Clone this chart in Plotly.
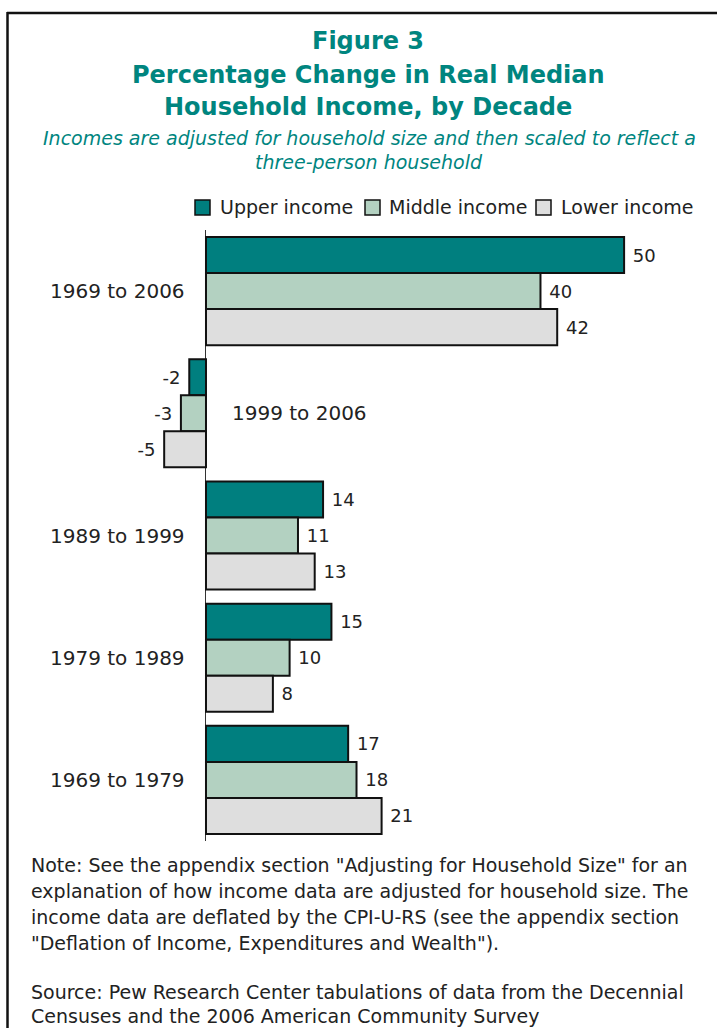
import plotly.graph_objects as go

# Decade categories (top to bottom) and percentage change per income tier
periods = ["1969 to 2006", "1999 to 2006", "1989 to 1999", "1979 to 1989", "1969 to 1979"]
upper_income = [50, -2, 14, 15, 17]
middle_income = [40, -3, 11, 10, 18]
lower_income = [42, -5, 13, 8, 21]

series = [
    ("Upper income", upper_income, "#007F7F"),
    ("Middle income", middle_income, "#B3D1C1"),
    ("Lower income", lower_income, "#DEDEDE"),
]

title_lines = ["Figure 3", "Percentage Change in Real Median", "Household Income, by Decade"]
subtitle_lines = ["Incomes are adjusted for household size and then scaled to reflect a",
                  "three-person household"]
note_lines = [
    "Note: See the appendix section \"Adjusting for Household Size\" for an",
    "explanation of how income data are adjusted for household size. The",
    "income data are deflated by the CPI-U-RS (see the appendix section",
    "\"Deflation of Income, Expenditures and Wealth\").",
    "",
    "Source: Pew Research Center tabulations of data from the Decennial",
    "Censuses and the 2006 American Community Survey",
]

W, H = 717, 1028
ML, MR, MT, MB = 160, 26, 230, 187
PW, PH = W - ML - MR, H - MT - MB


def px(xp):
    return (xp - ML) / PW


def py(yp):
    return (H - MB - yp) / PH


FONT = "DejaVu Sans"
TEAL = "#00857F"
INK = "#222222"


def label(v):
    # pad the value text away from the bar end
    return f" {v}" if v >= 0 else f"{v} "


fig = go.Figure()
for name, vals, color in series:
    fig.add_trace(go.Bar(
        y=periods, x=vals, name=name, orientation="h",
        marker=dict(color=color, line=dict(color="#111111", width=2)),
        text=[label(v) for v in vals], textposition="outside",
        textfont=dict(family=FONT, size=18, color=INK),
        cliponaxis=False, showlegend=False,
    ))

annotations = []
shapes = []

# Category labels: left of the axis, except the negative-valued decade which sits right of it
for p in periods:
    right_side = p == "1999 to 2006"
    annotations.append(dict(x=px(230 if right_side else 187), xref="paper", y=p, yref="y", text=p,
                            showarrow=False, xanchor="left" if right_side else "right",
                            yanchor="middle", font=dict(family=FONT, size=20, color=INK)))

# Title block
for text, yc in zip(title_lines, [41, 75, 107]):
    annotations.append(dict(x=px(368), y=py(yc), xref="paper", yref="paper", showarrow=False,
                            xanchor="center", yanchor="middle", text=f"<b>{text}</b>",
                            font=dict(family=FONT, size=24, color=TEAL)))
for text, yc in zip(subtitle_lines, [138, 162]):
    annotations.append(dict(x=px(369), y=py(yc), xref="paper", yref="paper", showarrow=False,
                            xanchor="center", yanchor="middle", text=f"<i>{text}</i>",
                            font=dict(family=FONT, size=19, color=TEAL)))

# Legend row: swatch + label per series
legend_x = [(195, 218), (365, 387), (536, 559)]
for (name, _, color), (sx, tx) in zip(series, legend_x):
    shapes.append(dict(type="rect", xref="paper", yref="paper",
                       x0=px(sx), x1=px(sx + 15), y0=py(200), y1=py(215),
                       fillcolor=color, line=dict(color="#111111", width=1.5)))
    annotations.append(dict(x=px(tx), y=py(207), xref="paper", yref="paper", showarrow=False,
                            xanchor="left", yanchor="middle", text=name,
                            font=dict(family=FONT, size=19, color=INK)))

# Notes and source
note_y = [865, 891, 917, 943, None, 992, 1016]
for text, yc in zip(note_lines, note_y):
    if not text:
        continue
    annotations.append(dict(x=px(29), y=py(yc), xref="paper", yref="paper", showarrow=False,
                            xanchor="left", yanchor="middle", text=text,
                            font=dict(family=FONT, size=19, color=INK)))

# Frame lines along the top and left edges
shapes += [
    dict(type="line", xref="paper", yref="paper", x0=px(7), x1=px(W + 5), y0=py(13), y1=py(13),
         line=dict(color="#111111", width=2.5)),
    dict(type="line", xref="paper", yref="paper", x0=px(7.5), x1=px(7.5), y0=py(12), y1=py(H + 5),
         line=dict(color="#111111", width=2.5)),
]

fig.update_layout(
    width=W, height=H,
    margin=dict(l=ML, r=MR, t=MT, b=MB),
    paper_bgcolor="white", plot_bgcolor="white",
    barmode="group", bargap=0.115, bargroupgap=0,
    showlegend=False,
    xaxis=dict(range=[-5.5, 58], showgrid=False, showticklabels=False, ticks="",
               zeroline=True, zerolinecolor="#333333", zerolinewidth=1, showline=False),
    yaxis=dict(autorange="reversed", showgrid=False, showticklabels=False, ticks="",
               showline=False, zeroline=False),
    annotations=annotations,
    shapes=shapes,
)

fig.write_html("out.html")
